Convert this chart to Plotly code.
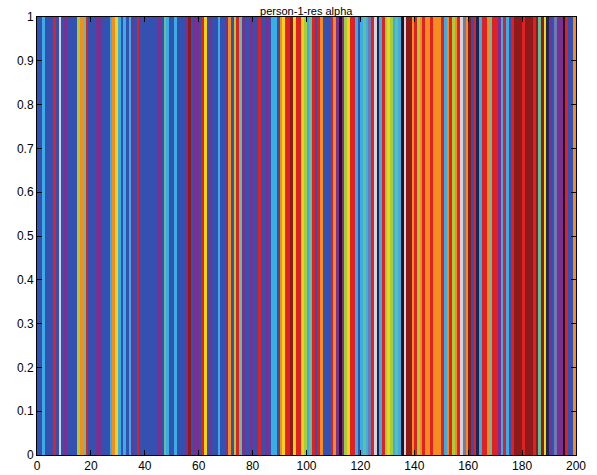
import plotly.graph_objects as go

# category palette (index -> colour)
palette = ["#3451b2",  # 0 blue
           "#3aaee4",  # 1 sky blue
           "#78318f",  # 2 purple
           "#e12026",  # 3 red
           "#f6d30f",  # 4 yellow
           "#f58d1e",  # 5 orange
           "#a8cd3a",  # 6 yellow-green
           "#62bf96",  # 7 teal green
           "#8e1a1a",  # 8 dark red
           "#2c0e1e",  # 9 near black
           "#6a7ab4",  # 10 slate
           "#1b2552",  # 11 navy
           "#d2d2da"]  # 12 whitish

B, C, P, R, Y, O, G, T, D, K, S, N, W = range(13)

col_values = [
    B, B, C, B, B, B, R, B, W, B,      # 1-10
    P, B, B, B, B, G, O, T, R, B,      # 11-20
    B, B, P, P, B, B, B, C, O, Y,      # 21-30
    C, B, C, B, C, P, B, R, B, B,      # 31-40
    B, B, B, B, B, P, B, T, C, B,      # 41-50
    B, C, B, B, B, P, D, B, P, P,      # 51-60
    B, R, Y, B, P, B, B, C, B, B,      # 61-70
    P, O, B, G, R, T, P, B, B, P,      # 71-80
    B, B, R, B, B, P, B, C, C, B,      # 81-90
    O, Y, R, R, D, Y, R, R, Y, G,      # 91-100
    C, T, R, B, R, O, B, B, B, R,      # 101-110
    O, P, K, P, G, Y, R, R, C, B,      # 111-120
    C, T, C, S, R, W, N, C, R, G,      # 121-130
    Y, G, C, T, C, K, W, D, D, O,      # 131-140
    R, G, O, R, O, O, R, O, O, O,      # 141-150
    R, C, O, R, G, O, R, W, S, O,      # 151-160
    D, B, R, N, C, R, R, O, T, R,      # 161-170
    R, P, C, R, C, B, R, D, D, D,      # 171-180
    R, D, D, D, R, D, T, D, Y, N,      # 181-190
    P, B, S, P, P, K, R, B, B, O,      # 191-200
]

x_centers = [i + 0.5 for i in range(len(col_values))]
y_centers = [0.25, 0.75]

n = len(palette)
colorscale = []
for i, c in enumerate(palette):
    colorscale.append([i / n, c])
    colorscale.append([(i + 1) / n, c])

fig = go.Figure(go.Heatmap(
    z=[col_values, col_values],
    x=x_centers,
    y=y_centers,
    colorscale=colorscale,
    zmin=-0.5, zmax=n - 0.5,
    showscale=False,
    hoverinfo="skip",
))

axis_common = dict(
    showgrid=False, zeroline=False, automargin=False,
    showline=True, linecolor="black", linewidth=1, mirror="ticks",
    ticks="inside", ticklen=5, tickcolor="black",
    tickfont=dict(family="Liberation Sans, Arial", size=12, color="black"),
)

fig.update_layout(
    width=597, height=475,
    margin=dict(l=37, r=21, t=17, b=20),
    paper_bgcolor="white", plot_bgcolor="white",
    title=dict(text="person-1-res alpha", x=0.513, xanchor="center",
               y=0.985, yanchor="top",
               font=dict(family="Liberation Sans, Arial", size=11, color="black")),
    xaxis=dict(range=[0, 200], tickmode="linear", tick0=0, dtick=20, **axis_common),
    yaxis=dict(range=[0, 1], tickmode="linear", tick0=0, dtick=0.1, **axis_common),
)

fig.write_html("out.html")
